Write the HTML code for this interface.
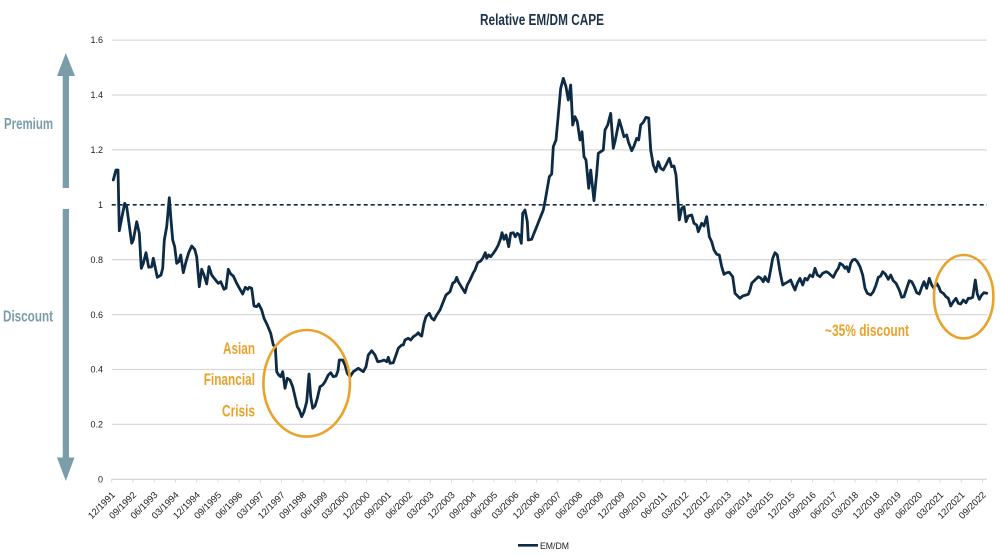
<!DOCTYPE html>
<html><head><meta charset="utf-8"><style>
html,body{margin:0;padding:0;background:#fff;}
svg{display:block;}
text{font-family:"Liberation Sans",Arial,sans-serif;}
</style></head><body>
<svg width="1000" height="556" viewBox="0 0 1000 556" xmlns="http://www.w3.org/2000/svg">
<rect width="1000" height="556" fill="#fff"/>
<text x="480" y="25" font-size="15.5" font-weight="bold" fill="#1c3349" textLength="124" lengthAdjust="spacingAndGlyphs">Relative EM/DM CAPE</text>
<g stroke="#d9d9d9" stroke-width="1.3">
<line x1="111.7" y1="40.1" x2="987" y2="40.1"/>
<line x1="111.7" y1="95" x2="987" y2="95"/>
<line x1="111.7" y1="149.9" x2="987" y2="149.9"/>
<line x1="111.7" y1="259.7" x2="987" y2="259.7"/>
<line x1="111.7" y1="314.6" x2="987" y2="314.6"/>
<line x1="111.7" y1="369.5" x2="987" y2="369.5"/>
<line x1="111.7" y1="424.4" x2="987" y2="424.4"/>
<line x1="111.7" y1="479.3" x2="987" y2="479.3"/>
</g>
<line x1="111.7" y1="204.8" x2="987" y2="204.8" stroke="#0d2b45" stroke-width="1.6" stroke-dasharray="4,3"/>
<g fill="#222" font-size="9" text-anchor="end">
<text x="103" y="43">1.6</text><text x="103" y="98">1.4</text><text x="103" y="153">1.2</text><text x="103" y="208">1</text><text x="103" y="263">0.8</text><text x="103" y="318">0.6</text><text x="103" y="372.5">0.4</text><text x="103" y="427.5">0.2</text><text x="103" y="482.5">0</text>
</g>
<g stroke="#d9d9d9" stroke-width="1">
<path d="M111.7 479v3.5M132.9 479v3.5M154.2 479v3.5M175.4 479v3.5M196.7 479v3.5M217.9 479v3.5M239.1 479v3.5M260.4 479v3.5M281.6 479v3.5M302.9 479v3.5M324.1 479v3.5M345.3 479v3.5M366.6 479v3.5M387.8 479v3.5M409.1 479v3.5M430.3 479v3.5M451.5 479v3.5M472.8 479v3.5M494 479v3.5M515.3 479v3.5M536.5 479v3.5M557.7 479v3.5M579 479v3.5M600.2 479v3.5M621.5 479v3.5M642.7 479v3.5M663.9 479v3.5M685.2 479v3.5M706.4 479v3.5M727.7 479v3.5M748.9 479v3.5M770.1 479v3.5M791.4 479v3.5M812.6 479v3.5M833.9 479v3.5M855.1 479v3.5M876.3 479v3.5M897.6 479v3.5M918.8 479v3.5M940.1 479v3.5M961.3 479v3.5M982.5 479v3.5"/>
</g>
<g fill="#222" font-size="9.4" text-anchor="end">
<text transform="translate(115.7,495.5) rotate(-45)">12/1991</text>
<text transform="translate(136.9,495.5) rotate(-45)">09/1992</text>
<text transform="translate(158.2,495.5) rotate(-45)">06/1993</text>
<text transform="translate(179.4,495.5) rotate(-45)">03/1994</text>
<text transform="translate(200.7,495.5) rotate(-45)">12/1994</text>
<text transform="translate(221.9,495.5) rotate(-45)">09/1995</text>
<text transform="translate(243.1,495.5) rotate(-45)">06/1996</text>
<text transform="translate(264.4,495.5) rotate(-45)">03/1997</text>
<text transform="translate(285.6,495.5) rotate(-45)">12/1997</text>
<text transform="translate(306.9,495.5) rotate(-45)">09/1998</text>
<text transform="translate(328.1,495.5) rotate(-45)">06/1999</text>
<text transform="translate(349.3,495.5) rotate(-45)">03/2000</text>
<text transform="translate(370.6,495.5) rotate(-45)">12/2000</text>
<text transform="translate(391.8,495.5) rotate(-45)">09/2001</text>
<text transform="translate(413.1,495.5) rotate(-45)">06/2002</text>
<text transform="translate(434.3,495.5) rotate(-45)">03/2003</text>
<text transform="translate(455.5,495.5) rotate(-45)">12/2003</text>
<text transform="translate(476.8,495.5) rotate(-45)">09/2004</text>
<text transform="translate(498,495.5) rotate(-45)">06/2005</text>
<text transform="translate(519.3,495.5) rotate(-45)">03/2006</text>
<text transform="translate(540.5,495.5) rotate(-45)">12/2006</text>
<text transform="translate(561.7,495.5) rotate(-45)">09/2007</text>
<text transform="translate(583,495.5) rotate(-45)">06/2008</text>
<text transform="translate(604.2,495.5) rotate(-45)">03/2009</text>
<text transform="translate(625.5,495.5) rotate(-45)">12/2009</text>
<text transform="translate(646.7,495.5) rotate(-45)">09/2010</text>
<text transform="translate(667.9,495.5) rotate(-45)">06/2011</text>
<text transform="translate(689.2,495.5) rotate(-45)">03/2012</text>
<text transform="translate(710.4,495.5) rotate(-45)">12/2012</text>
<text transform="translate(731.7,495.5) rotate(-45)">09/2013</text>
<text transform="translate(752.9,495.5) rotate(-45)">06/2014</text>
<text transform="translate(774.1,495.5) rotate(-45)">03/2015</text>
<text transform="translate(795.4,495.5) rotate(-45)">12/2015</text>
<text transform="translate(816.6,495.5) rotate(-45)">09/2016</text>
<text transform="translate(837.9,495.5) rotate(-45)">06/2017</text>
<text transform="translate(859.1,495.5) rotate(-45)">03/2018</text>
<text transform="translate(880.3,495.5) rotate(-45)">12/2018</text>
<text transform="translate(901.6,495.5) rotate(-45)">09/2019</text>
<text transform="translate(922.8,495.5) rotate(-45)">06/2020</text>
<text transform="translate(944.1,495.5) rotate(-45)">03/2021</text>
<text transform="translate(965.3,495.5) rotate(-45)">12/2021</text>
<text transform="translate(986.5,495.5) rotate(-45)">09/2022</text>
</g>
<polyline fill="none" stroke="#0d2b45" stroke-width="2.8" stroke-linejoin="round" stroke-linecap="round" points="113.3,180 116,170 118,170 119.3,230.7 122,216.7 124.7,203.3 126.7,206.7 131.7,243.3 133.3,240 136.7,221.7 139.3,233.3 141.3,268.3 143.3,263.3 146,252.7 148.7,267.3 151.7,266.7 153.3,258.3 157.3,277.3 161,275 162.7,268.3 164.3,240 166.7,226.7 169.3,197.7 171,220 172.7,240 174.7,246.7 176.7,263.3 178.7,261.7 180.7,255 183.3,272.7 186,261.7 188.7,252.7 191.7,246 194.7,249.3 196.7,256.7 199.3,286.7 201.7,269.3 204,275 206.7,284 209,266.7 211.7,275 215,279.3 218.3,283.3 220.7,281.7 224,289.3 226,288.3 228.3,269.3 230.7,274 233.3,276 236.7,283.3 240,289.3 242.7,294 245.3,287.3 247.7,289.3 249.3,287.3 251.7,288.3 254,306 256.7,306.7 258.7,304 261.7,310 264,318.3 267.3,325 270.7,333.3 273.3,345 275.3,346.7 276.7,371.7 278.7,375 280.7,376.7 282.7,371.7 285,388.3 287.3,378.3 290,380 292.7,386.7 295,396.7 297.3,406.7 299.3,410 301.7,416.7 304,411.7 306.7,401.7 309,374 310.7,396.7 312.7,408.3 315,406 317.3,398.3 320,386.7 322.7,385 325,381.7 328.3,375 330.7,372.7 333.3,376.7 336,376 338,370.7 339.3,360 342.7,360 345,365 347.3,373.3 350,376.7 353.3,371.7 358.3,368.3 363.3,371.7 366,366.7 368.3,355 371.7,350.7 375,355 377.7,361.7 381.7,361 384,360 386.7,361.7 388.3,357.3 390,363.3 393.3,362.7 396,355 398.3,348.3 401.7,345 403.3,345 405,340 408.3,338.3 410.7,340 413.3,336.7 416,335 418.3,332.7 420,335 421.7,336 424,323.3 426,316.7 429.3,313.3 431.7,318.3 434,320 436.7,315 440,310 443.3,301.7 446,295 450,291.7 452.7,283.3 455,281.7 456.7,277.3 458.3,281.7 461.7,287.3 465,292.7 467.3,285 470,280 473.3,272.7 475,270 477.7,262.7 480.7,261 482.7,258.3 485.3,252.7 486.7,258.3 488.7,255 490.7,256.7 493.3,253.3 496,249.3 498.3,245 500.7,238.3 502,232.7 504,239.3 506,235 508.7,246.7 510.7,233.3 513.3,232.7 515.3,236.7 517.3,233.3 519.3,235 521.3,243.3 522.7,213.3 525,210 527.3,221.7 528.3,240 531.7,239.3 534,233.3 536.7,226.7 539.3,220 542,213.3 543.3,210 545,201.7 547.3,188.3 549.3,176.7 551.7,174 553.3,146.7 556,140 558.3,115 560.7,88.3 563.3,78.3 566,86.7 568.3,100 570.7,85 572.7,125 575,116.7 577.3,121.7 580,140 582,131.7 584,156.7 586,160 588.7,188.3 590.7,170 594,200.7 596.7,173.3 598.3,153.3 600.7,151.7 603.3,150 605,130 607.7,125 610.7,113.3 613.3,148.3 615.3,140 619.3,120 621.7,128.3 624,136.7 626.7,135 628.3,141.7 631.7,150.7 634,146 636.7,138.3 638.7,140 640.7,125 643.3,122.3 646,117.3 648.7,118 650.7,150 653.3,165 656,171.7 658.3,161.7 660.7,168.3 663.3,170 666,165 669.3,158.3 671.7,166.7 674,166 676,175 679.3,220 681.7,208.3 684,206.7 686,221.7 688.3,216 691.7,215 694,223.3 696.7,225 698.3,231.7 701.7,223.3 704,226 706.7,216.7 709.3,236.7 711.7,241.7 714,250 716.7,254.3 719.3,255 721.7,266.7 724,274.3 726.7,272.7 729.3,272.3 732.7,276.7 735,293.3 738.3,296.7 740,298.3 742.7,296 746,295 748.3,294.3 750,290 751.7,283.3 755,280 758.3,276.7 761,278.3 763.3,281.7 765,276.7 766.7,280 768.3,281.7 770,273.3 772.7,258.3 775,252.7 777.3,255 780,271.7 782.7,285 785.3,283.3 788.3,281.7 790.7,280 792.7,285 795,290 797.3,283.3 800,278.3 802.7,285 805,278.3 807.3,280 810,275 812.7,276.7 815,268.3 817.3,275 820,276.7 822.7,273.3 826,271.7 828.3,272.7 830.7,275 833.3,277.3 836,271.7 838.3,268.3 840,263.3 842.7,265 845,268.3 846.7,266.7 848.7,271.7 850.7,263.3 852.7,260 855,259.3 857.3,261.7 860,266.7 862.7,275 865,288.3 867.3,293.3 870.7,295 873.3,291.7 876,285 878.3,277.3 880.7,276 882.7,271.7 885.3,274 888.3,279.3 890.7,275 893.3,280.7 896,283.3 899.3,290 901.7,297.3 904,296.7 906.7,288.3 909.3,280.7 911.7,281.7 914,286 916.7,292.7 919.3,294 921.7,287.3 924,281.7 926.7,288.3 929.3,278.3 931.7,285 934,288.3 936.7,283.3 938.7,286.7 940.7,291.7 943.3,293.3 946,296.7 948.3,298.3 950.7,306 953.3,301.7 956,298.3 958.3,303.3 960.7,304 963.3,300 966,302.7 968.3,298.3 970.7,298.3 972.7,297.3 975.3,280 977.3,294 979.3,299.3 981.7,295 984,292.7 986.7,293.3"/>
<ellipse cx="306.7" cy="383.3" rx="43.3" ry="53.3" fill="none" stroke="#e9a22b" stroke-width="2.6"/>
<ellipse cx="963.7" cy="296.7" rx="29.7" ry="41.7" fill="none" stroke="#e9a22b" stroke-width="2.6"/>
<g fill="#e9a22b" font-size="16.5" font-weight="bold">
<text x="223" y="354" textLength="32" lengthAdjust="spacingAndGlyphs">Asian</text>
<text x="203.7" y="385" textLength="51.3" lengthAdjust="spacingAndGlyphs">Financial</text>
<text x="222" y="416.7" textLength="33" lengthAdjust="spacingAndGlyphs">Crisis</text>
<text x="825" y="336" textLength="84" lengthAdjust="spacingAndGlyphs">~35% discount</text>
</g>
<g fill="#7b9daa">
<rect x="62.7" y="74" width="6.3" height="114"/>
<polygon points="65.8,53 75,76 57,76"/>
<rect x="62.7" y="209" width="6.3" height="250"/>
<polygon points="65.8,481 74.5,457.5 57,457.5"/>
</g>
<g fill="#7b9daa" font-size="16" font-weight="bold">
<text x="4" y="129" textLength="49" lengthAdjust="spacingAndGlyphs">Premium</text>
<text x="3" y="321.7" textLength="50" lengthAdjust="spacingAndGlyphs">Discount</text>
</g>
<line x1="518" y1="545.3" x2="538" y2="545.3" stroke="#0d2b45" stroke-width="2.6"/>
<text x="540" y="549" font-size="9.5" fill="#222" textLength="29" lengthAdjust="spacingAndGlyphs">EM/DM</text>
</svg>
</body></html>
